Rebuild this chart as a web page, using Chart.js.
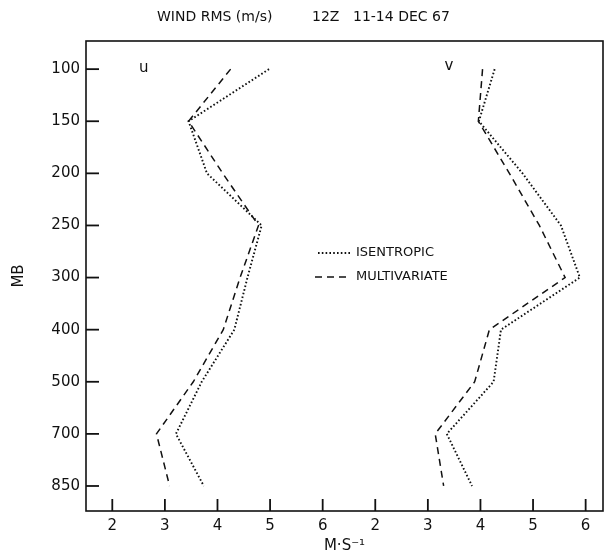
<!DOCTYPE html>
<html>
<head>
<meta charset="utf-8">
<script src="https://cdn.jsdelivr.net/npm/chart.js@4/dist/chart.umd.min.js"></script>
<style>
  html, body { margin: 0; padding: 0; background: #fff; }
  #wrap { width: 604px; height: 558px; }
</style>
</head>
<body>
<div id="wrap"><canvas id="grafico"></canvas></div>
<script>
// niveles de presion (MB), de arriba hacia abajo
const niveles = ['100', '150', '200', '250', '300', '400', '500', '700', '850'];

// RMS componente u (m/s)
const uIsentropico = [4.98, 3.45, 3.80, 4.84, 4.57, 4.32, 3.70, 3.21, 3.74];
const uMultivariado = [4.25, 3.45, 4.10, 4.78, 4.43, 4.11, 3.54, 2.84, 3.09];

// RMS componente v (m/s)
const vIsentropico = [4.27, 3.97, 4.80, 5.53, 5.89, 4.39, 4.25, 3.36, 3.84];
const vMultivariado = [4.04, 3.96, 4.55, 5.12, 5.61, 4.17, 3.89, 3.14, 3.30];

// marcas del eje x (se repiten en cada panel)
const ticksX = [2, 3, 4, 5, 6];

const desplazamientoV = 5; // el panel v arranca donde estaria el 7 del panel u
const tinta = '#111';
const fuente = "'DejaVu Sans', sans-serif";

const puntos = (valores, shift) => valores.map((v, i) => ({ x: v + shift, y: i }));

const estiloPunteado = { borderColor: tinta, borderWidth: 1.9, borderDash: [1.6, 2.2], pointRadius: 0, fill: false, tension: 0 };
const estiloRayado = { borderColor: tinta, borderWidth: 1.5, borderDash: [7, 5], pointRadius: 0, fill: false, tension: 0 };

// marco, marcas internas, titulo, leyenda y rotulos u / v
const decoraciones = {
  id: 'decoraciones',
  afterDatasetsDraw(chart) {
    const { ctx, chartArea: a, scales } = chart;
    ctx.save();
    ctx.strokeStyle = tinta;
    ctx.lineWidth = 1.6;
    ctx.strokeRect(a.left, a.top, a.right - a.left, a.bottom - a.top);

    // marcas hacia adentro
    ctx.lineWidth = 1.8;
    scales.y.ticks.forEach(t => {
      const py = scales.y.getPixelForValue(t.value);
      ctx.beginPath(); ctx.moveTo(a.left, py); ctx.lineTo(a.left + 13, py); ctx.stroke();
    });
    scales.x.ticks.forEach(t => {
      const px = scales.x.getPixelForValue(t.value);
      ctx.beginPath(); ctx.moveTo(px, a.bottom); ctx.lineTo(px, a.bottom - 12); ctx.stroke();
    });

    ctx.fillStyle = tinta;
    ctx.textBaseline = 'middle';
    ctx.textAlign = 'left';

    // titulo
    ctx.font = '14px ' + fuente;
    ctx.fillText('WIND RMS (m/s)', 157, 17);
    ctx.fillText('12Z', 312, 17);
    ctx.fillText('11-14 DEC 67', 353, 17);

    // rotulos de panel
    ctx.font = '15px ' + fuente;
    ctx.textAlign = 'center';
    ctx.fillText('u', scales.x.getPixelForValue(2.6), scales.y.getPixelForValue(0) - 1);
    ctx.fillText('v', scales.x.getPixelForValue(8.4), scales.y.getPixelForValue(0) - 3);

    // leyenda
    ctx.textAlign = 'left';
    ctx.font = '13px ' + fuente;
    const filas = [
      { texto: 'ISENTROPIC', estilo: estiloPunteado, y: 253, x0: 318 },
      { texto: 'MULTIVARIATE', estilo: estiloRayado, y: 277, x0: 315 }
    ];
    filas.forEach(f => {
      ctx.setLineDash(f.estilo.borderDash);
      ctx.lineWidth = f.estilo.borderWidth;
      ctx.beginPath(); ctx.moveTo(f.x0, f.y); ctx.lineTo(350, f.y); ctx.stroke();
      ctx.setLineDash([]);
      ctx.fillText(f.texto, 356, f.y);
    });
    ctx.restore();
  }
};

new Chart(document.getElementById('grafico'), {
  type: 'line',
  data: {
    datasets: [
      { label: 'ISENTROPIC u', data: puntos(uIsentropico, 0), ...estiloPunteado },
      { label: 'MULTIVARIATE u', data: puntos(uMultivariado, 0), ...estiloRayado },
      { label: 'ISENTROPIC v', data: puntos(vIsentropico, desplazamientoV), ...estiloPunteado },
      { label: 'MULTIVARIATE v', data: puntos(vMultivariado, desplazamientoV), ...estiloRayado }
    ]
  },
  options: {
    responsive: true,
    maintainAspectRatio: false,
    animation: false,
    layout: { padding: { top: 41, right: 1, left: 0, bottom: 0 } },
    plugins: {
      legend: { display: false },
      title: { display: false },
      tooltip: { enabled: false }
    },
    scales: {
      x: {
        type: 'linear',
        min: 1.5,
        max: 11.33,
        afterBuildTicks: s => {
          s.ticks = ticksX.concat(ticksX.map(t => t + desplazamientoV)).map(v => ({ value: v }));
        },
        afterFit: s => { s.height = 47; },
        ticks: {
          color: tinta,
          padding: 6,
          font: { family: fuente, size: 15 },
          maxRotation: 0,
          callback: v => String(v > 6 ? v - desplazamientoV : v)
        },
        grid: { display: false, drawTicks: false },
        border: { display: false },
        title: {
          display: true,
          text: 'M·S⁻¹',
          color: tinta,
          font: { family: fuente, size: 15 },
          padding: { top: 2, bottom: 3 }
        }
      },
      y: {
        type: 'linear',
        reverse: true,
        min: -0.54,
        max: 8.48,
        afterBuildTicks: s => {
          s.ticks = niveles.map((_, i) => ({ value: i }));
        },
        afterFit: s => { s.width = 86; },
        ticks: {
          color: tinta,
          padding: 6,
          font: { family: fuente, size: 15 },
          callback: v => niveles[v]
        },
        grid: { display: false, drawTicks: false },
        border: { display: false },
        title: {
          display: true,
          text: 'MB',
          color: tinta,
          font: { family: fuente, size: 15 },
          padding: { top: 10, bottom: 0 }
        }
      }
    }
  },
  plugins: [decoraciones]
});
</script>
</body>
</html>
